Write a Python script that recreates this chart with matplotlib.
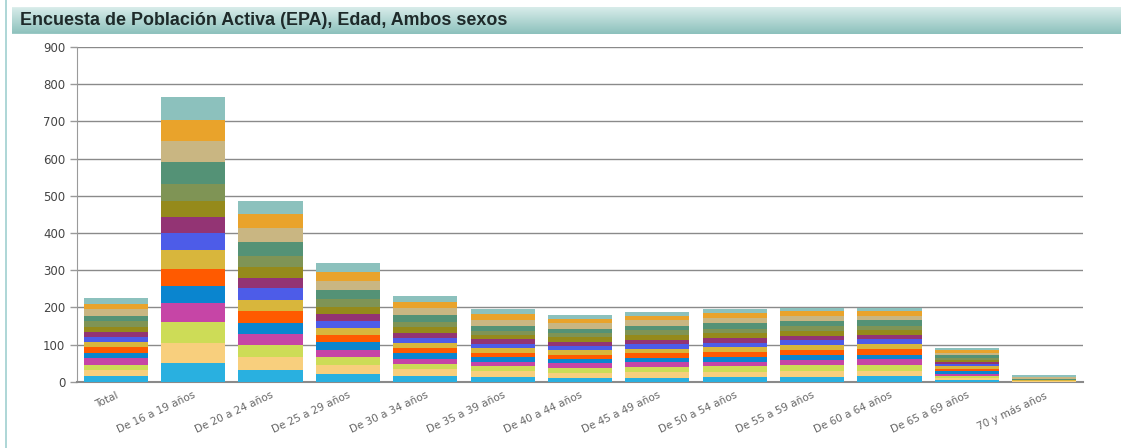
import numpy as np
import matplotlib
matplotlib.use("Agg")
import matplotlib.pyplot as plt
from matplotlib.colors import LinearSegmentedColormap
from matplotlib.patches import FancyBboxPatch

title = "Encuesta de Población Activa (EPA), Edad, Ambos sexos"

categories = ["Total", "De 16 a 19 años", "De 20 a 24 años", "De 25 a 29 años",
              "De 30 a 34 años", "De 35 a 39 años", "De 40 a 44 años",
              "De 45 a 49 años", "De 50 a 54 años", "De 55 a 59 años",
              "De 60 a 64 años", "De 65 a 69 años", "70 y más años"]

# one list per age group, segments from bottom to top
total_vals = [15, 16, 15, 18, 13, 16, 14, 13, 14, 13, 15, 16, 17, 15, 16]
age_16_19 = [50, 54, 56, 51, 47, 45, 50, 48, 42, 44, 45, 58, 56, 59, 61]
age_20_24 = [31, 36, 31, 30, 31, 30, 32, 30, 28, 29, 31, 36, 39, 36, 37]
age_25_29 = [21, 24, 21, 20, 20, 19, 20, 19, 18, 19, 22, 23, 24, 25, 25]
age_30_34 = [15, 18, 14, 15, 15, 14, 14, 13, 14, 14, 15, 18, 18, 16, 18]
age_35_39 = [12, 18, 13, 11, 12, 12, 12, 11, 13, 12, 11, 14, 15, 15, 14]
age_40_44 = [11, 13, 14, 12, 11, 11, 12, 13, 11, 12, 12, 10, 15, 12, 11]
age_45_49 = [11, 14, 14, 13, 12, 12, 13, 12, 12, 12, 13, 12, 15, 13, 10]
age_50_54 = [12, 14, 15, 13, 13, 13, 13, 12, 12, 13, 13, 14, 15, 12, 11]
age_55_59 = [13, 15, 16, 14, 13, 14, 14, 13, 12, 13, 13, 14, 14, 12, 8]
age_60_64 = [14, 16, 16, 14, 13, 14, 14, 13, 12, 13, 12, 14, 13, 12, 8]
age_65_69 = [5, 6, 5, 6, 6, 7, 6, 6, 6, 5, 6, 7, 7, 6, 6]
age_70_mas = [0.5, 0.5, 0.5, 0.5, 0.5, 0.5, 0.5, 0.5, 0.5, 0.5, 0.5, 1, 5, 2, 4]

colors = ["#29b0e0", "#f8cf7d", "#cddc57", "#c645a6", "#0a85cf", "#ff5a00",
          "#d8b63c", "#4d5ce8", "#933474", "#958a1b", "#7f9455", "#549276",
          "#c9b682", "#e9a32b", "#8cc1bd"]

data = np.array([total_vals, age_16_19, age_20_24, age_25_29, age_30_34,
                 age_35_39, age_40_44, age_45_49, age_50_54, age_55_59,
                 age_60_64, age_65_69, age_70_mas], float)

fig = plt.figure(figsize=(11.21, 4.48), dpi=100)

# left frame line
fig.add_artist(plt.Line2D([6 / 1121, 6 / 1121], [0, 1], color="#9fcfd0", lw=1.2))

# title bar with gradient and rounded corners
tax = fig.add_axes([12 / 1121, 1 - 34 / 448, 1 - 12 / 1121, 27 / 448])
cmap = LinearSegmentedColormap.from_list("tb", ["#d8ecea", "#8cc1bc"])
img = tax.imshow(np.linspace(0, 1, 50).reshape(-1, 1), aspect="auto", cmap=cmap,
                 extent=[0, 1, 0, 1])
clip = FancyBboxPatch((0, 0), 1.2, 1, boxstyle="round,pad=0,rounding_size=0.25",
                      mutation_aspect=1 / 40, transform=tax.transData,
                      facecolor="none", edgecolor="none")
tax.add_patch(clip)
img.set_clip_path(clip)
tax.set_xlim(0, 1)
tax.set_ylim(0, 1)
tax.set_axis_off()
tax.text(0.007, 0.5, title, fontsize=12.9, fontweight="bold", color="#1e2a2a",
         family="Liberation Sans", va="center", ha="left", transform=tax.transAxes)

ax = fig.add_axes([77 / 1121, 1 - 381.7 / 448, (1083 - 77) / 1121, (381.7 - 47) / 448])
x = np.arange(len(categories))
bottom = np.zeros(len(categories))
for i in range(data.shape[1]):
    ax.bar(x, data[:, i], 0.83, bottom=bottom, color=colors[i],
           linewidth=0, zorder=3)
    bottom += data[:, i]

ax.set_ylim(0, 900)
ax.set_xlim(-0.5, len(categories) - 0.5)
ax.set_yticks(range(0, 901, 100))
ax.yaxis.grid(True, color="#8a8a8a", lw=1.0, zorder=0)
for s in ["top", "right"]:
    ax.spines[s].set_visible(False)
ax.spines["left"].set_color("#9a9a9a")
ax.spines["bottom"].set_color("#8a8a8a")
ax.spines["bottom"].set_linewidth(1.5)
ax.tick_params(axis="y", colors="#9a9a9a", labelcolor="#444444", labelsize=8.5,
               length=5, width=1)
ax.tick_params(axis="x", length=0, labelcolor="#666666", labelsize=7.5, pad=6)
ax.set_xticks(x)
ax.set_xticklabels(categories, rotation=25, ha="right", rotation_mode="anchor")

fig.savefig("out.png", dpi=100)
